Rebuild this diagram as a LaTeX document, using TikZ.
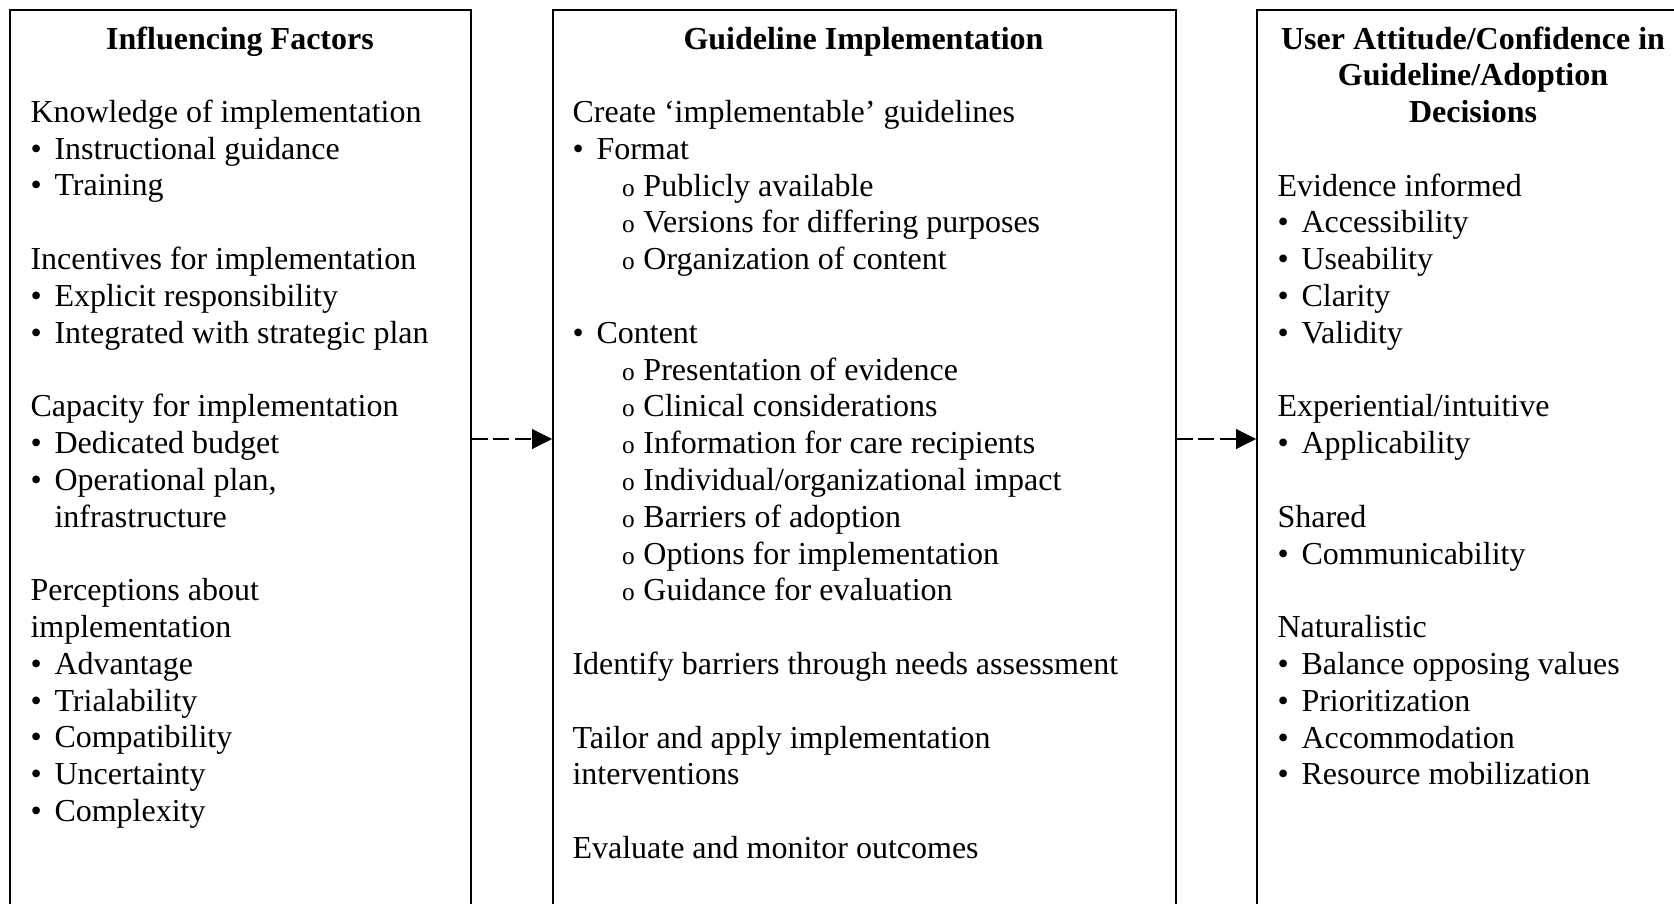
\documentclass[tikz,border=0pt]{standalone}
\usepackage{fontspec}
\setmainfont{Liberation Serif}
\usetikzlibrary{arrows.meta}

\newcommand{\bul}{\makebox[9pt][l]{\textbullet}}
\newcommand{\subbul}{\hspace*{18.6pt}\makebox[8pt][l]{\fontsize{9.5pt}{9.5pt}\selectfont o}}

\tikzset{
  panel/.style={draw, line width=0.75pt, anchor=north west, inner sep=0pt,
    minimum height=345.4pt},
  heading/.style={font=\fontsize{12pt}{13.8pt}\selectfont\bfseries,
    align=center, anchor=north, inner sep=0pt, execute at begin node=\strut},
  body/.style={align=left, anchor=north west, inner sep=0pt,
    execute at begin node=\strut},
  flow/.style={dash pattern=on 6pt off 2pt, line width=0.4pt,
    -{Triangle[length=7.5pt,width=7.5pt]}},
}

\begin{document}
\begin{tikzpicture}[x=0.375pt, y=-0.375pt,
    font=\fontsize{12pt}{13.8pt}\selectfont]
  \useasboundingbox (0, 0) rectangle (1674, 903);
  \clip (0, 0) rectangle (1674, 903);

  % the three panels
  \node[panel, minimum width=172.9pt] (factors) at (9, 9) {};
  \node[panel, minimum width=233.6pt] (impl) at (552, 9) {};
  \node[panel, minimum width=162.75pt] (attitude) at (1256, 9) {};

  % headings
  \node[heading] (factors title) at (240, 22.8) {Influencing Factors};
  \node[heading] (impl title) at (863.5, 22.8) {Guideline Implementation};
  \node[heading] (attitude title) at (1473, 26)
    {User Attitude/Confidence in\\ Guideline/Adoption\\ Decisions};

  % panel texts
  \node[body] (factors text) at (30, 99.3) {%
    Knowledge of implementation\\
    \bul Instructional guidance\\
    \bul Training\\ \mbox{}\\
    Incentives for implementation\\
    \bul Explicit responsibility\\
    \bul Integrated with strategic plan\\ \mbox{}\\
    Capacity for implementation\\
    \bul Dedicated budget\\
    \bul Operational plan,\\
    \hspace*{9pt}infrastructure\\ \mbox{}\\
    Perceptions about\\
    implementation\\
    \bul Advantage\\
    \bul Trialability\\
    \bul Compatibility\\
    \bul Uncertainty\\
    \bul Complexity};

  \node[body] (impl text) at (572, 99.7) {%
    Create `implementable' guidelines\\
    \bul Format\\
    \subbul Publicly available\\
    \subbul Versions for differing purposes\\
    \subbul Organization of content\\ \mbox{}\\
    \bul Content\\
    \subbul Presentation of evidence\\
    \subbul Clinical considerations\\
    \subbul Information for care recipients\\
    \subbul Individual/organizational impact\\
    \subbul Barriers of adoption\\
    \subbul Options for implementation\\
    \subbul Guidance for evaluation\\ \mbox{}\\
    Identify barriers through needs assessment\\ \mbox{}\\
    Tailor and apply implementation\\
    interventions\\ \mbox{}\\
    Evaluate and monitor outcomes};

  \node[body] (attitude text) at (1277, 173) {%
    Evidence informed\\
    \bul Accessibility\\
    \bul Useability\\
    \bul Clarity\\
    \bul Validity\\ \mbox{}\\
    Experiential/intuitive\\
    \bul Applicability\\ \mbox{}\\
    Shared\\
    \bul Communicability\\ \mbox{}\\
    Naturalistic\\
    \bul Balance opposing values\\
    \bul Prioritization\\
    \bul Accommodation\\
    \bul Resource mobilization};

  % dashed arrows
  \coordinate (mid) at (0, 439);
  \draw[flow] (factors.east |- mid) -- (impl.west |- mid);
  \draw[flow] (impl.east |- mid) -- (attitude.west |- mid);
\end{tikzpicture}
\end{document}
